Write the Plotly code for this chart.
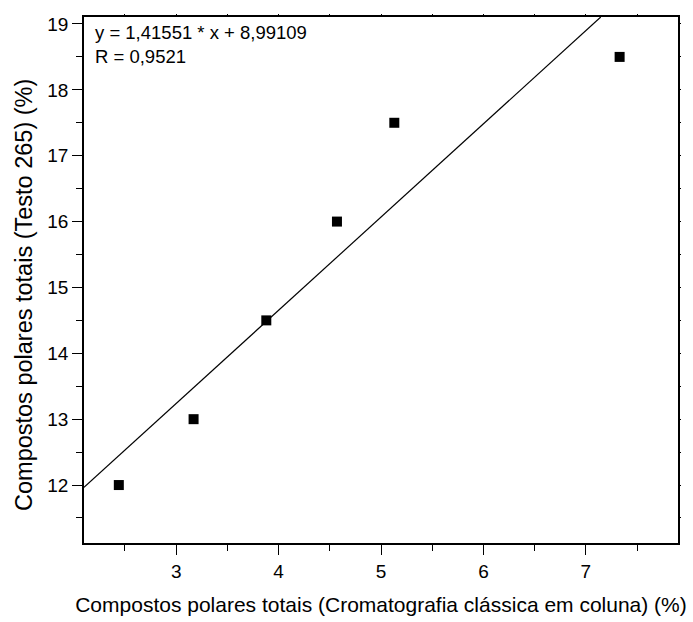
import plotly.graph_objects as go

# Measured values: classical column chromatography vs Testo 265 readings
cromatografia = [2.44, 3.17, 3.88, 4.57, 5.13, 7.33]
testo265 = [12.0, 13.0, 14.5, 16.0, 17.5, 18.5]

# Linear fit reported on the chart
slope = 1.41551
intercept = 8.99109
r_value = 0.9521

x_range = [2.1, 7.9]
y_range = [11.12, 19.106]

# Fit line spans the visible x range (clipped by the axes at the top)
fit_x = [x_range[0], (y_range[1] - intercept) / slope]
fit_y = [slope * v + intercept for v in fit_x]

font_family = "Liberation Sans, Arial, sans-serif"

fig = go.Figure()
fig.add_trace(go.Scatter(
    x=fit_x, y=fit_y, mode="lines",
    line=dict(color="black", width=1.2),
    showlegend=False, hoverinfo="skip",
))
fig.add_trace(go.Scatter(
    x=cromatografia, y=testo265, mode="markers",
    marker=dict(symbol="square", size=10, color="black"),
    showlegend=False,
))
# Invisible copy on the top/right axes so their short tick marks are drawn
fig.add_trace(go.Scatter(
    x=cromatografia, y=testo265, mode="markers", xaxis="x2", yaxis="y2",
    marker=dict(opacity=0), showlegend=False, hoverinfo="skip",
))

axis_common = dict(
    showgrid=False, zeroline=False, automargin=False,
    showline=True, linecolor="black", linewidth=1.5,
    mirror=True, ticks="outside", ticklen=10, tickwidth=1.2, tickcolor="black",
    tickfont=dict(family=font_family, size=19, color="black"),
)
minor_ticks = dict(dtick=0.5, tick0=0, ticks="outside", ticklen=6, tickwidth=1.2, tickcolor="black")

mirror_axis = dict(
    showgrid=False, zeroline=False, automargin=False, showline=False,
    ticks="outside", ticklen=2, tickwidth=1.2, tickcolor="black",
    showticklabels=False, dtick=1, tick0=0,
    minor=dict(dtick=0.5, tick0=0, ticks="outside", ticklen=2, tickwidth=1.2, tickcolor="black"),
)

fig.update_layout(
    xaxis=dict(
        range=x_range, dtick=1, tick0=0, minor=minor_ticks,
        title=dict(text="Compostos polares totais (Cromatografia clássica em coluna) (%)",
                   font=dict(family=font_family, size=21, color="black"), standoff=17),
        **axis_common,
    ),
    yaxis=dict(range=y_range, dtick=1, tick0=0, minor=minor_ticks, **axis_common),
    xaxis2=dict(range=x_range, overlaying="x", side="top", **mirror_axis),
    yaxis2=dict(range=y_range, overlaying="y", side="right", **mirror_axis),
)

# Y-axis title placed as a rotated annotation
fig.add_annotation(
    xref="paper", yref="paper", x=0, y=0.4715, xanchor="center", yanchor="middle",
    xshift=-60, textangle=-90, showarrow=False,
    text="Compostos polares totais (Testo 265) (%)",
    font=dict(family=font_family, size=23.5, color="black"),
)

fig.add_annotation(
    xref="paper", yref="paper", x=0, y=1, xanchor="left", yanchor="top",
    xshift=9, yshift=-3, align="left", showarrow=False,
    text=f"y = {slope:.5f} * x + {intercept:.5f}".replace(".", ",")
         + "<br>" + f"R = {r_value:.4f}".replace(".", ","),
    font=dict(family=font_family, size=18.5, color="black"),
)

fig.update_layout(
    width=693, height=622,
    margin=dict(l=84, r=15, t=17, b=79),
    plot_bgcolor="white", paper_bgcolor="white",
)

fig.write_html("out.html")
